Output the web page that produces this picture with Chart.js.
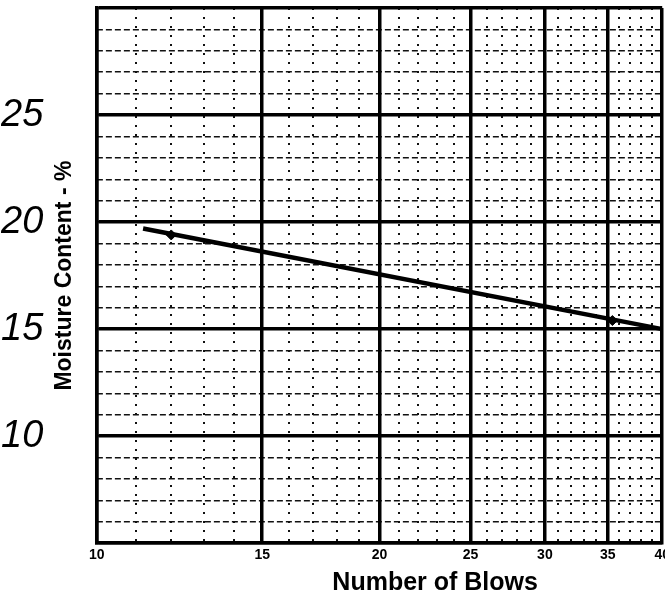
<!DOCTYPE html>
<html>
<head>
<meta charset="utf-8">
<script src="https://cdn.jsdelivr.net/npm/chart.js@4/dist/chart.umd.min.js"></script>
<style>
  html, body { margin: 0; padding: 0; background: #fff; overflow: hidden; }
  canvas { display: block; }
</style>
</head>
<body>
<canvas id="myChart" width="674" height="596"></canvas>
<script>
const blowTicks = [10, 15, 20, 25, 30, 35, 40];
const moistureTicks = [10, 15, 20, 25];

// the two plotted trials
const blows = [12, 35.4];
const moisture = [19.4, 15.4];

// flow curve through them
const flowBlows = [11.2, 40];
const flowMoisture = [19.7, 15.0];

const minorBlows = [];
for (let n = 11; n < 40; n++) {
  if (!blowTicks.includes(n)) minorBlows.push(n);
}

const data = {
  datasets: [
    {
      label: 'Flow curve',
      data: flowBlows.map((b, i) => ({ x: b, y: flowMoisture[i] })),
      borderColor: '#000',
      borderWidth: 4.5,
      pointRadius: 0,
      showLine: true
    },
    {
      label: 'Trials',
      data: blows.map((b, i) => ({ x: b, y: moisture[i] })),
      backgroundColor: '#000',
      borderColor: '#000',
      pointStyle: 'rectRot',
      pointRadius: 5,
      showLine: false
    }
  ]
};

const config = {
  type: 'scatter',
  data: data,
  options: {
    responsive: false,
    animation: false,
    layout: {
      autoPadding: false,
      padding: { top: 8, right: 5, left: 1, bottom: 0 }
    },
    plugins: {
      legend: { display: false },
      tooltip: { enabled: false }
    },
    scales: {
      xMinor: {
        type: 'logarithmic',
        position: 'top',
        min: 10,
        max: 40,
        afterBuildTicks: (scale) => { scale.ticks = minorBlows.map(v => ({ value: v })); },
        ticks: { display: false },
        grid: { color: '#111', lineWidth: 2, drawTicks: false },
        border: { display: false, dash: [2, 7] }
      },
      yMinor: {
        type: 'linear',
        position: 'right',
        min: 5,
        max: 30,
        ticks: { display: false, stepSize: 1 },
        grid: { color: '#111', lineWidth: 1.5, drawTicks: false },
        border: { display: false, dash: [6, 3] }
      },
      x: {
        type: 'logarithmic',
        position: 'bottom',
        min: 10,
        max: 40,
        afterBuildTicks: (scale) => { scale.ticks = blowTicks.map(v => ({ value: v })); },
        ticks: {
          autoSkip: false,
          maxRotation: 0,
          padding: 4,
          color: '#000',
          font: { family: 'Liberation Sans', size: 14, weight: 'bold' },
          callback: (v) => String(v)
        },
        grid: { color: '#000', lineWidth: 3.5, drawTicks: false, z: 0 },
        border: { color: '#000', width: 3.5 },
        title: {
          display: true,
          text: '                Number of Blows',
          color: '#000',
          font: { family: 'Liberation Sans', size: 25, weight: 'bold', lineHeight: 1 },
          padding: { top: 3, bottom: 0 }
        }
      },
      y: {
        type: 'linear',
        position: 'left',
        min: 5,
        max: 30,
        ticks: { display: false, stepSize: 5 },
        grid: { color: '#000', lineWidth: 3.5, drawTicks: false, z: 0 },
        border: { color: '#000', width: 3.5 },
        title: {
          display: true,
          text: 'Moisture Content - %',
          color: '#000',
          font: { family: 'Liberation Sans', size: 23, weight: 'bold' },
          padding: { top: 0, bottom: 18 }
        }
      },
      yHand: {
        type: 'linear',
        position: 'left',
        weight: 1,
        min: 5,
        max: 30,
        afterBuildTicks: (scale) => { scale.ticks = moistureTicks.map(v => ({ value: v })); },
        ticks: {
          padding: 0,
          color: '#000',
          font: { family: 'Liberation Sans', size: 38, style: 'italic', lineHeight: 0.4 }
        },
        grid: { display: false },
        border: { display: false }
      }
    }
  }
};

new Chart(document.getElementById('myChart'), config);
</script>
</body>
</html>
